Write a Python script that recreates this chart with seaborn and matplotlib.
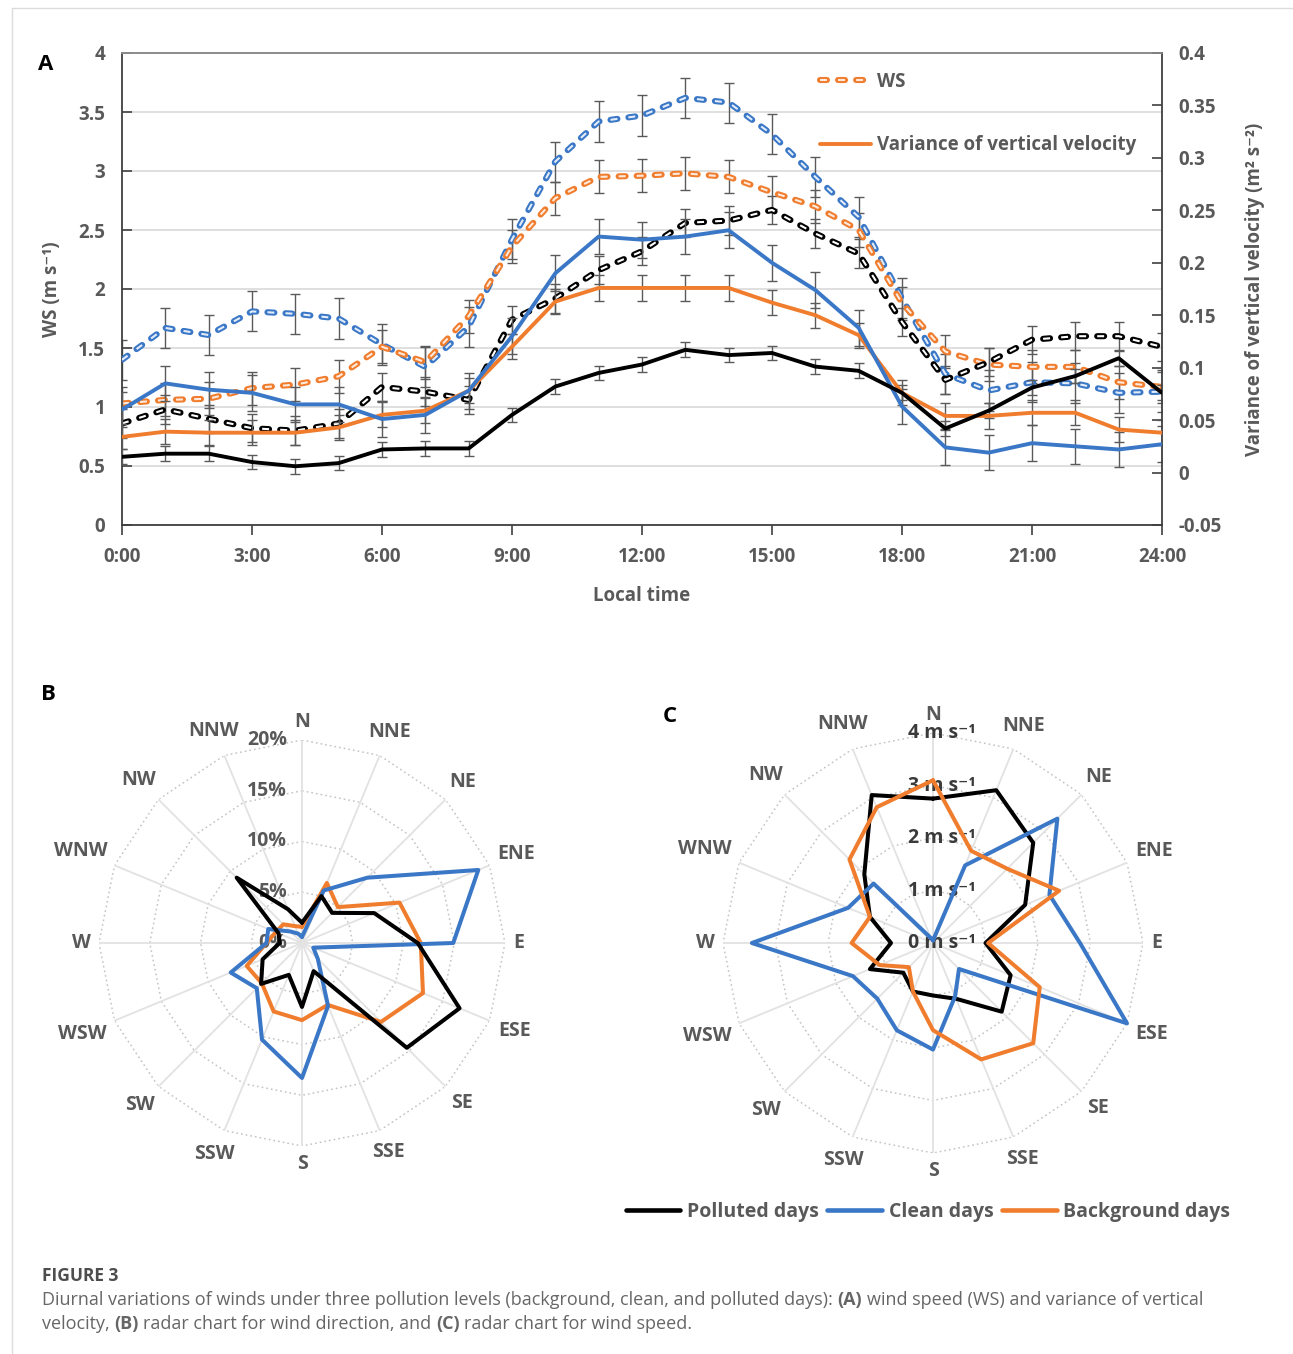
import numpy as np
import matplotlib
matplotlib.use("Agg")
import matplotlib.pyplot as plt
import matplotlib.patheffects as pe
from matplotlib.lines import Line2D
from matplotlib.ticker import MultipleLocator, FuncFormatter
import seaborn as sns

# ---------------- data: diurnal cycle (panel A) ----------------
hours = list(range(25))
time_labels = ["0:00", "3:00", "6:00", "9:00", "12:00", "15:00", "18:00", "21:00", "24:00"]

# wind speed (m s-1), left axis
ws_polluted = [0.86, 0.98, 0.90, 0.82, 0.80, 0.86, 1.17, 1.13, 1.06, 1.74, 1.92, 2.16, 2.32,
               2.56, 2.58, 2.67, 2.47, 2.30, 1.72, 1.23, 1.38, 1.57, 1.60, 1.60, 1.51]
ws_clean = [1.40, 1.67, 1.61, 1.81, 1.79, 1.75, 1.53, 1.34, 1.68, 2.42, 3.08, 3.42, 3.47,
            3.62, 3.58, 3.31, 2.95, 2.61, 1.92, 1.28, 1.14, 1.21, 1.20, 1.12, 1.13]
ws_background = [1.03, 1.06, 1.07, 1.16, 1.19, 1.26, 1.51, 1.38, 1.77, 2.36, 2.77, 2.95, 2.96,
                 2.98, 2.95, 2.82, 2.70, 2.50, 1.88, 1.47, 1.36, 1.34, 1.34, 1.21, 1.17]

# variance of vertical velocity (m2 s-2), right axis
var_polluted = [0.015, 0.018, 0.018, 0.010, 0.006, 0.009, 0.022, 0.023, 0.023, 0.055, 0.082, 0.095, 0.103,
                0.117, 0.112, 0.114, 0.101, 0.097, 0.076, 0.042, 0.059, 0.081, 0.092, 0.109, 0.076]
var_clean = [0.060, 0.085, 0.079, 0.076, 0.065, 0.065, 0.051, 0.055, 0.078, 0.130, 0.190, 0.225, 0.222,
             0.225, 0.231, 0.200, 0.174, 0.138, 0.063, 0.024, 0.019, 0.028, 0.025, 0.022, 0.027]
var_background = [0.034, 0.039, 0.038, 0.038, 0.038, 0.043, 0.055, 0.059, 0.078, 0.120, 0.163, 0.176, 0.176,
                  0.176, 0.176, 0.162, 0.150, 0.131, 0.076, 0.054, 0.054, 0.057, 0.057, 0.041, 0.038]

# half-widths of the error bars
ws_err_polluted, ws_err_clean, ws_err_background = 0.12, 0.17, 0.14
var_err_polluted, var_err_clean, var_err_background = 0.007, 0.017, 0.012

# ---------------- data: radar charts (panels B, C) ----------------
directions = ["N", "NNE", "NE", "ENE", "E", "ESE", "SE", "SSE",
              "S", "SSW", "SW", "WSW", "W", "WNW", "NW", "NNW"]

# frequency of wind direction (%)
freq_polluted = [2.0, 5.0, 4.2, 7.7, 11.4, 16.8, 14.6, 3.0, 6.3, 3.4, 5.7, 4.2, 2.2, 2.5, 9.1, 3.6]
freq_clean = [0.6, 5.6, 9.1, 18.8, 14.9, 1.2, 2.2, 6.7, 13.3, 10.3, 6.3, 7.6, 3.5, 3.6, 1.6, 1.0]
freq_background = [1.6, 6.4, 5.0, 10.4, 11.7, 12.9, 11.0, 6.6, 7.6, 7.3, 5.6, 5.9, 3.5, 2.8, 2.6, 1.8]

# mean wind speed per direction (m s-1)
speed_polluted = [2.75, 3.15, 2.70, 1.90, 1.00, 1.60, 1.85, 1.15, 1.00, 1.00, 0.80, 1.30, 0.80, 1.30, 1.85, 3.05]
speed_clean = [0.05, 1.60, 3.35, 2.40, 2.80, 4.00, 0.70, 1.10, 2.03, 1.80, 1.50, 1.65, 3.45, 1.75, 1.60, 0.10]
speed_background = [3.10, 1.90, 2.00, 2.60, 1.05, 2.20, 2.70, 2.40, 1.66, 1.00, 0.65, 1.10, 1.55, 1.30, 2.25, 2.80]

freq_rings = [0, 5, 10, 15, 20]
speed_rings = [0, 1, 2, 3, 4]
group_names = ["Polluted days", "Clean days", "Background days"]

# ---------------- style ----------------
sns.set_theme(style="white")
plt.rcParams["font.family"] = ["Open Sans", "DejaVu Sans"]
plt.rcParams["lines.scale_dashes"] = False
plt.rcParams["axes.unicode_minus"] = False

TXT = "#595959"
C_POL, C_CLN, C_BKG = "#000000", "#3A77C6", "#F07D2E"
F_POL, F_CLN, F_BKG = "#ffffff", "#e3edf9", "#fdeadc"
DASH = (0, (5, 8))

W, H = 1293, 1354
fig = plt.figure(figsize=(W / 100, H / 100), dpi=100)
fig.patch.set_facecolor("white")
renderer = fig.canvas.get_renderer()


def hollow(col):
    return [pe.Stroke(linewidth=4.4, foreground=col, capstyle="round"), pe.Normal()]


def num_fmt(v, pos):
    v = round(v, 4)
    return "0" if abs(v) < 1e-9 else f"{v:g}"


# ---------------- panel A ----------------
ax = fig.add_axes([122 / W, 1 - 525 / H, 1040 / W, 472 / H])
ax2 = ax.twinx()

ws_sets = [(ws_clean, ws_err_clean, C_CLN, F_CLN),
           (ws_background, ws_err_background, C_BKG, F_BKG),
           (ws_polluted, ws_err_polluted, C_POL, F_POL)]
for vals, err, col, fill in ws_sets:
    ax.errorbar(hours, vals, yerr=err, fmt="none", ecolor="#5a5a5a",
                elinewidth=1.0, capsize=3.5, capthick=1.0, zorder=2)
    sns.lineplot(x=hours, y=vals, ax=ax, color=fill, linewidth=1.5, linestyle=DASH,
                 dash_capstyle="butt", path_effects=hollow(col), zorder=3)

var_sets = [(var_background, var_err_background, C_BKG),
            (var_clean, var_err_clean, C_CLN),
            (var_polluted, var_err_polluted, C_POL)]
for vals, err, col in var_sets:
    ax2.errorbar(hours, vals, yerr=err, fmt="none", ecolor="#5a5a5a",
                 elinewidth=1.0, capsize=3.5, capthick=1.0, zorder=2)
    sns.lineplot(x=hours, y=vals, ax=ax2, color=col, linewidth=2.8, zorder=3)

ax.set_xlim(0, 24)
ax.set_ylim(0, 4)
ax.set_xticks(range(0, 25, 3))
ax.set_xticklabels(time_labels)
ax.yaxis.set_major_locator(MultipleLocator(0.5))
ax.yaxis.set_major_formatter(FuncFormatter(num_fmt))
ax.grid(axis="y", color="#d9d9d9", linewidth=1.2)
ax.grid(axis="x", visible=False)
ax.tick_params(axis="x", direction="out", length=7, width=1.2, color="#404040",
               labelsize=13.5, labelcolor=TXT, pad=9, bottom=True)
ax.tick_params(axis="y", direction="in", length=7, width=1.2, color="#404040",
               labelsize=13.5, labelcolor=TXT, pad=12, left=True)

ax2.set_ylim(-0.05, 0.4)
ax2.yaxis.set_major_locator(MultipleLocator(0.05))
ax2.yaxis.set_major_formatter(FuncFormatter(num_fmt))
ax2.tick_params(axis="y", direction="in", length=7, width=1.2, color="#404040",
                labelsize=13.5, labelcolor=TXT, pad=12, right=True)
ax2.grid(False)

for a in (ax, ax2):
    for lbl in a.get_xticklabels() + a.get_yticklabels():
        lbl.set_fontweight("bold")
    for side in ("left", "bottom", "right"):
        a.spines[side].set_color("#404040")
        a.spines[side].set_linewidth(1.3)
    a.spines["top"].set_color("#8c8c8c")
    a.spines["top"].set_linewidth(1.2)
ax.spines["right"].set_visible(False)
ax2.spines["left"].set_visible(False)
ax2.spines["bottom"].set_visible(False)

ax.set_xlabel("Local time", fontsize=13.5, fontweight="bold", color=TXT, va="center")
ax.xaxis.set_label_coords(0.5, -(596 - 525) / 472)
ax.set_ylabel("WS (m s⁻¹)", fontsize=13.5, fontweight="bold", color=TXT, va="center")
ax.yaxis.set_label_coords((52 - 122) / 1040, 0.5)
ax2.set_ylabel("Variance of vertical velocity (m² s⁻²)", fontsize=13.5, fontweight="bold",
               color=TXT, va="center", rotation=90)
ax2.yaxis.set_label_coords((1255 - 122) / 1040, 0.5)

h_ws = Line2D([], [], color=F_BKG, lw=1.5, ls=DASH, dash_capstyle="butt", path_effects=hollow(C_BKG))
h_var = Line2D([], [], color=C_BKG, lw=2.8)
ax2.legend([h_ws, h_var], ["WS", "Variance of vertical velocity"], loc="upper left",
           bbox_to_anchor=((820 - 122) / 1040, 1 - (72 - 53) / 472), frameon=False,
           handlelength=2.7, handletextpad=0.35, labelspacing=2.3, borderpad=0,
           borderaxespad=0, prop={"weight": "bold", "size": 13.5}, labelcolor=TXT)

# ---------------- panels B and C ----------------
theta = np.deg2rad(np.arange(len(directions)) * 22.5)
theta_closed = np.append(theta, 2 * np.pi)


def closed(vals):
    return np.append(np.asarray(vals, float), vals[0])


def radar_axes(cx, cy, rpix, rmax, rings):
    ax_r = fig.add_axes([(cx - rpix) / W, 1 - (cy + rpix) / H, 2 * rpix / W, 2 * rpix / H],
                        projection="polar")
    ax_r.set_theta_zero_location("N")
    ax_r.set_theta_direction(-1)
    ax_r.grid(False)
    ax_r.set_xticks([])
    ax_r.set_yticks([])
    ax_r.spines["polar"].set_visible(False)
    ax_r.set_facecolor("none")
    for r in rings[1:]:
        ax_r.plot(theta_closed, np.full(theta_closed.size, r), ls=(0, (1.2, 2.2)),
                  color="#c4c4c4", lw=1.1, zorder=1)
    for t in theta:
        ax_r.plot([t, t], [0, rmax], color="#e2e2e2", lw=1.3, zorder=1)
    for t, name in zip(theta, directions):
        probe = fig.text(0, 0, name, fontsize=14, fontweight="bold")
        bb = probe.get_window_extent(renderer)
        probe.remove()
        s, c = np.sin(t), np.cos(t)
        off = 8 + 0.5 * bb.width * abs(s) + 0.5 * bb.height * abs(c)
        ax_r.annotate(name, xy=(t, rmax), xytext=(off * s, off * c), textcoords="offset pixels",
                      ha="center", va="center", fontsize=14, fontweight="bold", color=TXT,
                      annotation_clip=False)
    return ax_r


def radar_series(ax_r, series, rmax):
    for vals, col in series:
        sns.lineplot(x=theta_closed, y=closed(vals), ax=ax_r, sort=False, estimator=None,
                     color=col, linewidth=2.9, zorder=3, clip_on=False)
    ax_r.set_xlabel("")
    ax_r.set_ylabel("")
    ax_r.set_ylim(0, rmax)


# B: wind direction frequency
axB = radar_axes(302, 943, 203, 20, freq_rings)
radar_series(axB, [(freq_background, C_BKG), (freq_clean, C_CLN), (freq_polluted, C_POL)], 20)
for r in freq_rings:
    axB.annotate(f"{r}%", xy=(0, r), xytext=(-15, 0), textcoords="offset pixels", ha="right",
                 va="center", fontsize=14, fontweight="bold", color=TXT, zorder=2,
                 annotation_clip=False)

# C: wind speed by direction
axC = radar_axes(933, 943, 210, 4, speed_rings)
radar_series(axC, [(speed_polluted, C_POL), (speed_clean, C_CLN), (speed_background, C_BKG)], 4)
for r in speed_rings:
    axC.annotate(f"{r} m s⁻¹", xy=(0, r), xytext=(9, 0), textcoords="offset pixels", ha="center",
                 va="center", fontsize=14, fontweight="bold", color="#3a3a3a", zorder=2,
                 annotation_clip=False)

leg_handles = [Line2D([], [], color=c, lw=3.3) for c in (C_POL, C_CLN, C_BKG)]
fig.legend(leg_handles, group_names, loc="center", bbox_to_anchor=(928 / W, 1 - 1212 / H),
           ncol=3, frameon=False, handlelength=2.8, handletextpad=0.35, columnspacing=0.45,
           prop={"weight": "bold", "size": 14}, labelcolor=TXT)

# ---------------- panel letters ----------------
for letter, (px, py) in {"A": (46, 64), "B": (48, 695), "C": (670, 716)}.items():
    fig.text(px / W, 1 - py / H, letter, fontsize=16, fontweight="bold", color="black",
             ha="center", va="center")

# ---------------- caption ----------------
def text_width(s, **kw):
    t = fig.text(0, 0, s, **kw)
    w = t.get_window_extent(renderer).width
    t.remove()
    return w


def draw_runs(x_px, y_px, runs, **kw):
    space = text_width("x x", **kw) - text_width("xx", **kw)
    x = x_px
    for text, weight in runs:
        lead = len(text) - len(text.lstrip(" "))
        trail = len(text) - len(text.rstrip(" "))
        x += lead * space
        body = text.strip(" ")
        t = fig.text(x / W, 1 - y_px / H, body, fontweight=weight, ha="left", va="baseline", **kw)
        x += t.get_window_extent(renderer).width + trail * space


fig.text(42 / W, 1 - 1281 / H, "FIGURE 3", fontsize=12.5, fontweight="bold", color="#4d4d4d",
         ha="left", va="baseline")
cap_kw = dict(fontsize=13.0, color="#666666")
draw_runs(42, 1305, [("Diurnal variations of winds under three pollution levels (background, clean, "
                      "and polluted days): ", "normal"), ("(A)", "bold"),
                     (" wind speed (WS) and variance of vertical", "normal")], **cap_kw)
draw_runs(42, 1329, [("velocity, ", "normal"), ("(B)", "bold"),
                     (" radar chart for wind direction, and ", "normal"), ("(C)", "bold"),
                     (" radar chart for wind speed.", "normal")], **cap_kw)

# thin frame of the figure card
fig.add_artist(Line2D([12 / W, 12 / W], [0, 1 - 8 / H], transform=fig.transFigure,
                      color="#dcdcdc", lw=1.0))
fig.add_artist(Line2D([12 / W, 1], [1 - 8 / H, 1 - 8 / H], transform=fig.transFigure,
                      color="#dcdcdc", lw=1.0))

fig.savefig("out.png", dpi=100)
